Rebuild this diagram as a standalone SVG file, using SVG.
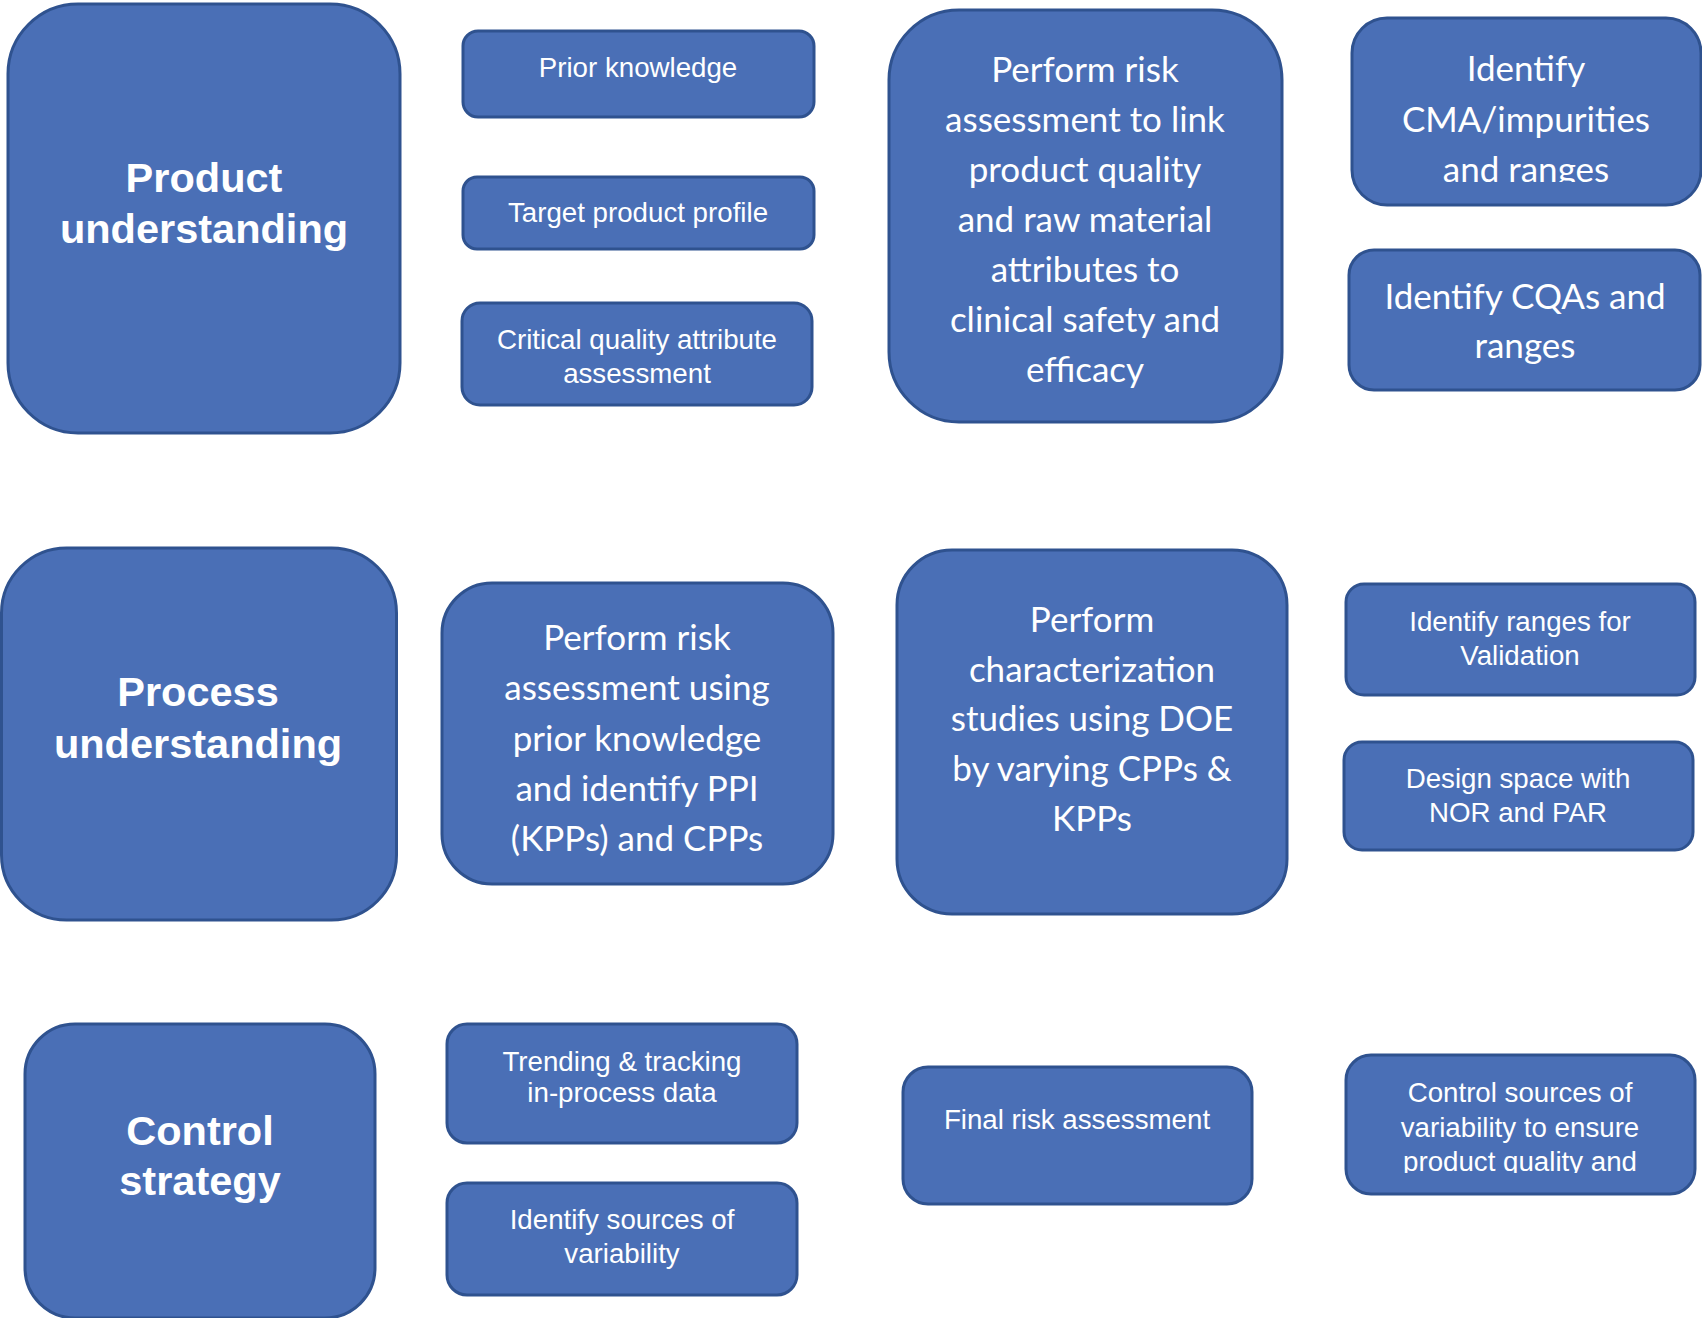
<svg xmlns="http://www.w3.org/2000/svg" width="1702" height="1318" viewBox="0 0 1702 1318">
<style>
.b{fill:#4a6fb6;stroke:#2f528f;stroke-width:3}
.h{font-family:"Liberation Sans",Arial,sans-serif;font-weight:bold;font-size:41.5px;fill:#fff;text-anchor:middle}
.a{font-family:"Liberation Sans",Arial,sans-serif;font-size:27.7px;fill:#fff;text-anchor:middle}
.c{font-family:Lato,"Open Sans",sans-serif;font-size:35px;fill:#fff;text-anchor:middle}
</style>
<defs>
<clipPath id="clipCMA"><rect x="1352" y="18" width="349" height="164"/></clipPath>
<clipPath id="clipCtl"><rect x="1346" y="1055" width="349" height="118"/></clipPath>
</defs>
<g id="connectors"></g>
<g id="product-understanding"><rect class="b" x="8" y="4" width="392" height="429" rx="70"/><text class="h" x="204" y="192">Product</text><text class="h" x="204" y="243">understanding</text></g>
<g id="prior-knowledge"><rect class="b" x="463" y="31" width="351" height="86" rx="15"/><text class="a" x="638" y="77">Prior knowledge</text></g>
<g id="target-product-profile"><rect class="b" x="463" y="177" width="351" height="72" rx="14"/><text class="a" x="638" y="222">Target product profile</text></g>
<g id="cqa-assessment"><rect class="b" x="462" y="303" width="350" height="102" rx="18"/><text class="a" x="637" y="349">Critical quality attribute</text><text class="a" x="637" y="383">assessment</text></g>
<g id="risk-link"><rect class="b" x="889" y="10" width="393" height="412" rx="70"/>
<text class="c" x="1085" y="82">Perform risk</text><text class="c" x="1085" y="132">assessment to link</text><text class="c" x="1085" y="182">product quality</text><text class="c" x="1085" y="232">and raw material</text><text class="c" x="1085" y="282">attributes to</text><text class="c" x="1085" y="332">clinical safety and</text><text class="c" x="1085" y="382">efficacy</text></g>
<g id="identify-cma"><rect class="b" x="1352" y="18" width="349" height="187" rx="35"/><g clip-path="url(#clipCMA)"><text class="c" x="1526" y="81">Identify</text><text class="c" x="1526" y="132">CMA/impurities</text><text class="c" x="1526" y="182">and ranges</text></g></g>
<g id="identify-cqas"><rect class="b" x="1349" y="250" width="351" height="140" rx="25"/><text class="c" x="1525" y="309">Identify CQAs and</text><text class="c" x="1525" y="358">ranges</text></g>
<g id="process-understanding"><rect class="b" x="1.5" y="548" width="395" height="372" rx="65"/><text class="h" x="198" y="706">Process</text><text class="h" x="198" y="758">understanding</text></g>
<g id="risk-ppi"><rect class="b" x="442" y="583" width="391" height="301" rx="50"/>
<text class="c" x="637" y="650">Perform risk</text><text class="c" x="637" y="700">assessment using</text><text class="c" x="637" y="751">prior knowledge</text><text class="c" x="637" y="801">and identify PPI</text><text class="c" x="637" y="851">(KPPs) and CPPs</text></g>
<g id="characterization"><rect class="b" x="897" y="550" width="390" height="364" rx="55"/>
<text class="c" x="1092" y="632">Perform</text><text class="c" x="1092" y="682">characterization</text><text class="c" x="1092" y="731">studies using DOE</text><text class="c" x="1092" y="781">by varying CPPs &amp;</text><text class="c" x="1092" y="831">KPPs</text></g>
<g id="ranges-validation"><rect class="b" x="1346" y="584" width="349" height="111" rx="18"/><text class="a" x="1520" y="631">Identify ranges for</text><text class="a" x="1520" y="665">Validation</text></g>
<g id="design-space"><rect class="b" x="1344" y="742" width="349" height="108" rx="18"/><text class="a" x="1518" y="788">Design space with</text><text class="a" x="1518" y="822">NOR and PAR</text></g>
<g id="control-strategy"><rect class="b" x="25" y="1024" width="350" height="294" rx="50"/><text class="h" x="200" y="1145">Control</text><text class="h" x="200" y="1195">strategy</text></g>
<g id="trending"><rect class="b" x="447" y="1024" width="350" height="119" rx="20"/><text class="a" x="622" y="1071">Trending &amp; tracking</text><text class="a" x="622" y="1102">in-process data</text></g>
<g id="sources-variability"><rect class="b" x="447" y="1183" width="350" height="112" rx="20"/><text class="a" x="622" y="1229">Identify sources of</text><text class="a" x="622" y="1263">variability</text></g>
<g id="final-risk"><rect class="b" x="903" y="1067" width="349" height="137" rx="25"/><text class="a" x="1077" y="1129">Final risk assessment</text></g>
<g id="control-sources"><rect class="b" x="1346" y="1055" width="349" height="139" rx="25"/><g clip-path="url(#clipCtl)"><text class="a" x="1520" y="1102">Control sources of</text><text class="a" x="1520" y="1137">variability to ensure</text><text class="a" x="1520" y="1171">product quality and</text></g></g>
</svg>
